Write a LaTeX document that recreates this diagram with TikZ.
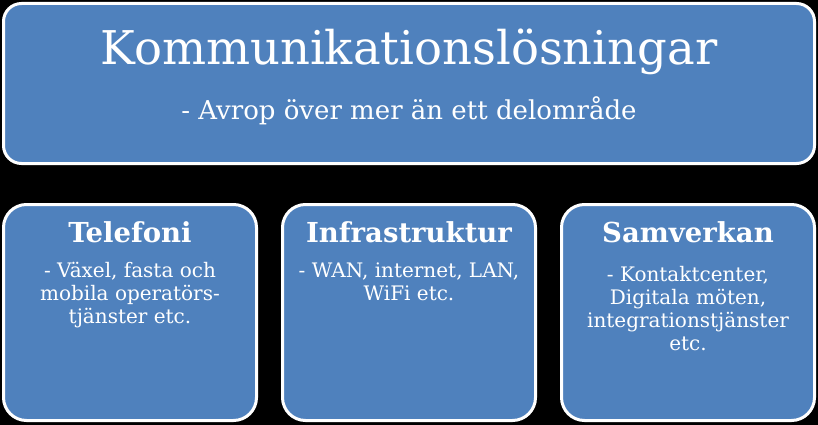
\documentclass[tikz,border=0pt]{standalone}
\usepackage{fontspec}
\setmainfont{DejaVu Serif}
\usepackage{tikz}
\usetikzlibrary{calc}
\definecolor{bg}{HTML}{000000}
\definecolor{boxfill}{HTML}{4F81BD}
\definecolor{text}{HTML}{FFFFFF}
\tikzset{
  panel/.style={draw=text, fill=boxfill, line width=3pt, rounded corners=18pt, inner sep=0pt},
  card/.style={panel, rounded corners=23pt, minimum width=253pt, minimum height=216pt},
  head/.style={text=text, font=\fontsize{46.5}{50}\selectfont, anchor=base, inner sep=0pt},
  sub/.style={text=text, font=\fontsize{26}{30}\selectfont, anchor=base, inner sep=0pt},
  cardhead/.style={text=text, font=\bfseries\fontsize{27.5}{30}\selectfont, anchor=base, inner sep=0pt},
  cardtext/.style={text=text, font=\fontsize{20}{23}\selectfont, align=center, anchor=base, inner sep=0pt},
}

\begin{document}
\begin{tikzpicture}[x=1pt,y=-1pt]
  \fill[bg] (0,0) rectangle (818,425);

  % top panel
  \node[panel, minimum width=811pt, minimum height=160pt] (main) at (409,83.5) {};
  \node[head] (mainhead) at (409,65) {Kommunikationslösningar};
  \node[sub] (mainsub) at (409,120) {- Avrop över mer än ett delområde};

  % three cards
  \node[card] (tel) at (130,312.5) {};
  \node[card] (infra) at (409,312.5) {};
  \node[card] (samv) at (688,312.5) {};

  \node[cardhead] (telhead) at (130,242) {Telefoni};
  \node[cardhead] (infrahead) at (409,242) {Infrastruktur};
  \node[cardhead] (samvhead) at (688,242) {Samverkan};

  % base of a multi-line node = last line
  \node[cardtext] (teltext) at (130,323) {- Växel, fasta och\\mobila operatörs-\\tjänster etc.};
  \node[cardtext] (infratext) at (409,300) {- WAN, internet, LAN,\\WiFi etc.};
  \node[cardtext] (samvtext) at (688,350) {- Kontaktcenter,\\Digitala möten,\\integrationstjänster\\etc.};
\end{tikzpicture}
\end{document}
